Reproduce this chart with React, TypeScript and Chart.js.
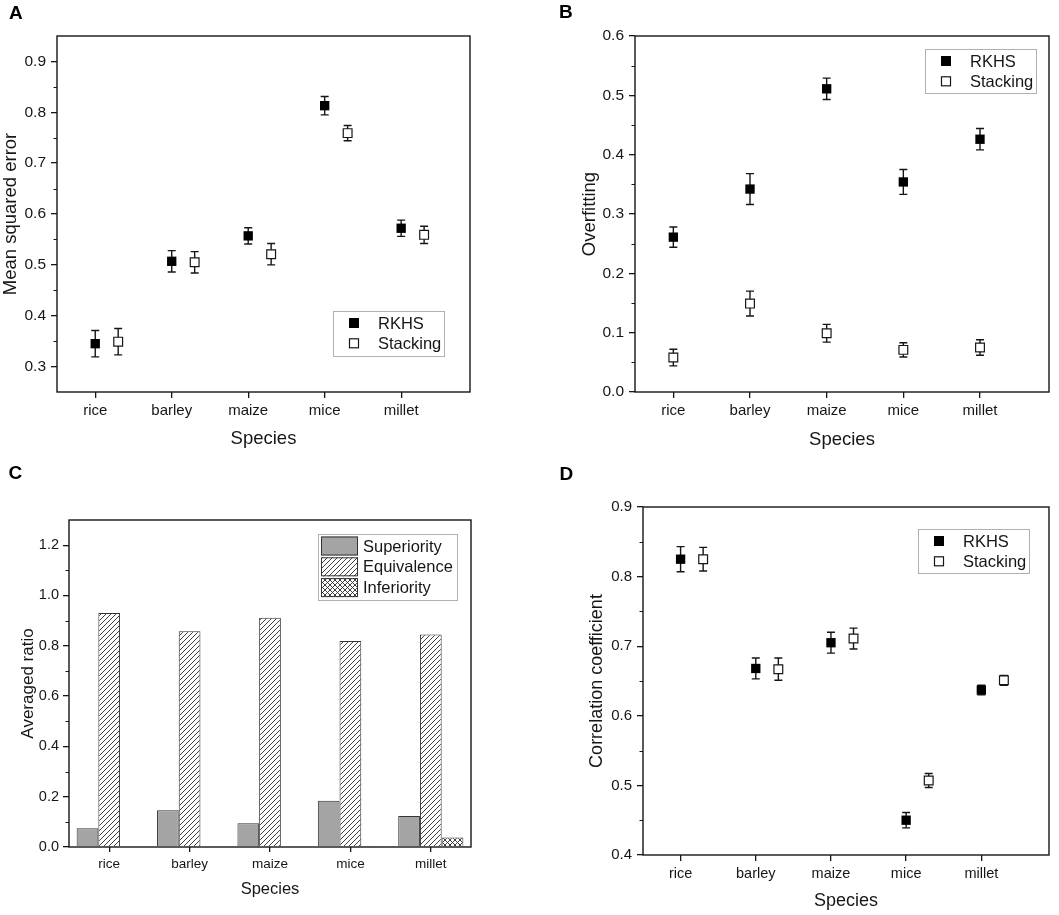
import { useEffect, useRef } from "react";
import { Chart, registerables } from "chart.js";

Chart.register(...registerables);

const FONT = "'Liberation Sans', Arial, Helvetica, sans-serif";
const INK = "#161616";

const species = ["rice", "barley", "maize", "mice", "millet"];
const speciesX = [1, 2, 3, 4, 5];

// A: mean squared error
const mseRkhs = [0.345, 0.507, 0.557, 0.813, 0.572];
const mseRkhsErr = [0.026, 0.021, 0.016, 0.018, 0.016];
const mseStacking = [0.349, 0.505, 0.521, 0.759, 0.559];
const mseStackingErr = [0.026, 0.021, 0.021, 0.015, 0.017];
const mseTicks = [0.3, 0.4, 0.5, 0.6, 0.7, 0.8, 0.9];

// B: overfitting
const ofRkhs = [0.261, 0.342, 0.511, 0.354, 0.426];
const ofRkhsErr = [0.017, 0.026, 0.018, 0.021, 0.018];
const ofStacking = [0.058, 0.149, 0.099, 0.071, 0.075];
const ofStackingErr = [0.014, 0.021, 0.015, 0.012, 0.013];
const ofTicks = [0, 0.1, 0.2, 0.3, 0.4, 0.5, 0.6];

// C: averaged ratio
const superiority = [0.075, 0.146, 0.094, 0.184, 0.123];
const equivalence = [0.93, 0.858, 0.911, 0.819, 0.845];
const inferiority = [0, 0, 0, 0.004, 0.038];
const ratioTicks = [0, 0.2, 0.4, 0.6, 0.8, 1.0, 1.2];

// D: correlation coefficient
const ccRkhs = [0.825, 0.668, 0.705, 0.45, 0.637];
const ccRkhsErr = [0.018, 0.015, 0.015, 0.011, 0.007];
const ccStacking = [0.825, 0.667, 0.711, 0.507, 0.651];
const ccStackingErr = [0.017, 0.016, 0.015, 0.01, 0.007];
const ccTicks = [0.4, 0.5, 0.6, 0.7, 0.8, 0.9];

function hatch(cross: boolean) {
  const s = 5;
  const c = document.createElement("canvas");
  c.width = s;
  c.height = s;
  const g = c.getContext("2d")!;
  g.fillStyle = "#fff";
  g.fillRect(0, 0, s, s);
  g.strokeStyle = "#2a2a2a";
  g.lineWidth = 0.9;
  g.beginPath();
  g.moveTo(0, s);
  g.lineTo(s, 0);
  g.moveTo(-1, 1);
  g.lineTo(1, -1);
  g.moveTo(s - 1, s + 1);
  g.lineTo(s + 1, s - 1);
  if (cross) {
    g.moveTo(0, 0);
    g.lineTo(s, s);
    g.moveTo(-1, s - 1);
    g.lineTo(1, s + 1);
    g.moveTo(s - 1, -1);
    g.lineTo(s + 1, 1);
  }
  g.stroke();
  return g.createPattern(c, "repeat");
}

// vertical error bars with caps, drawn under the markers
const errorBars = {
  id: "errorBars",
  beforeDatasetsDraw(chart: any) {
    const { ctx } = chart;
    const y = chart.scales.y;
    chart.data.datasets.forEach((ds: any, i: number) => {
      if (!ds.errors) return;
      const meta = chart.getDatasetMeta(i);
      ctx.save();
      ctx.strokeStyle = INK;
      ctx.lineWidth = 1.4;
      meta.data.forEach((pt: any, j: number) => {
        const v = ds.data[j].y;
        const hi = y.getPixelForValue(v + ds.errors[j]);
        const lo = y.getPixelForValue(v - ds.errors[j]);
        ctx.beginPath();
        ctx.moveTo(pt.x, hi);
        ctx.lineTo(pt.x, lo);
        ctx.moveTo(pt.x - 4, hi);
        ctx.lineTo(pt.x + 4, hi);
        ctx.moveTo(pt.x - 4, lo);
        ctx.lineTo(pt.x + 4, lo);
        ctx.stroke();
      });
      ctx.restore();
    });
  },
};

// frame, minor ticks and the boxed legend
const decor = {
  id: "decor",
  afterDraw(chart: any, _args: any, opts: any) {
    const { ctx, chartArea: a } = chart;
    const y = chart.scales.y;
    ctx.save();
    ctx.strokeStyle = INK;
    ctx.lineWidth = 1.4;
    ctx.strokeRect(a.left, a.top, a.right - a.left, a.bottom - a.top);

    const half = opts.minorStep;
    const majors: number[] = opts.majors;
    const minors = [majors[0] - half, ...majors.map((t) => t + half)].filter(
      (v) => v > y.min + 1e-6 && v < y.max - 1e-6
    );
    ctx.lineWidth = 1.2;
    ctx.beginPath();
    minors.forEach((v) => {
      const py = Math.round(y.getPixelForValue(v)) + 0.5;
      ctx.moveTo(a.left - 3.5, py);
      ctx.lineTo(a.left, py);
    });
    ctx.stroke();

    const L = opts.legend;
    ctx.strokeStyle = "#b0b0b0";
    ctx.lineWidth = 1;
    ctx.strokeRect(L.x + 0.5, L.y + 0.5, L.w, L.h);
    ctx.font = `16.5px ${FONT}`;
    ctx.textBaseline = "middle";
    L.items.forEach((it: any, k: number) => {
      const cy = L.y + L.first + k * L.gap;
      if (it.kind === "filled") {
        ctx.fillStyle = "#000";
        ctx.fillRect(L.x + 16, cy - 5, 10, 10);
      } else if (it.kind === "open") {
        ctx.fillStyle = "#fff";
        ctx.fillRect(L.x + 16, cy - 5, 10, 10);
        ctx.strokeStyle = INK;
        ctx.lineWidth = 1.2;
        ctx.strokeRect(L.x + 16.5, cy - 4.5, 9, 9);
      } else {
        ctx.fillStyle = it.fill;
        ctx.fillRect(L.x + 3, cy - 9.5, 37, 19);
        ctx.strokeStyle = "#333";
        ctx.lineWidth = 1;
        ctx.strokeRect(L.x + 3.5, cy - 9, 36, 18);
      }
      ctx.fillStyle = INK;
      ctx.fillText(it.label, L.x + 45, cy + 1);
    });
    ctx.restore();
  },
};

function valueAxis(o: any) {
  return {
    type: "linear",
    min: o.min,
    max: o.max,
    afterBuildTicks: (s: any) => {
      s.ticks = o.ticks.map((v: number) => ({ value: v }));
    },
    afterFit: (s: any) => {
      s.width = o.width;
    },
    grid: { display: true, drawOnChartArea: false, drawTicks: true, tickLength: 6, color: INK, lineWidth: 1.3 },
    border: { display: false },
    ticks: {
      padding: o.tickPad,
      color: INK,
      font: { family: FONT, size: o.tickSize },
      callback: (v: any) => Number(v).toFixed(1),
    },
    title: {
      display: true,
      text: o.title,
      color: INK,
      font: { family: FONT, size: o.titleSize },
      padding: { top: o.titlePad, bottom: 0 },
    },
  };
}

function speciesTitle(size: number, pad: number) {
  return {
    display: true,
    text: "Species",
    color: INK,
    font: { family: FONT, size },
    padding: { top: 0, bottom: pad },
  };
}

function scatterPanel(p: any) {
  return () => ({
    type: "scatter",
    data: {
      datasets: [
        {
          label: "RKHS",
          data: speciesX.map((x, i) => ({ x, y: p.rkhs[i] })),
          errors: p.rkhsErr,
          pointStyle: "rect",
          pointRadius: 6.6,
          backgroundColor: "#000",
          borderColor: "#000",
          borderWidth: 0,
        },
        {
          label: "Stacking",
          data: speciesX.map((x, i) => ({ x: x + p.shift, y: p.stacking[i] })),
          errors: p.stackingErr,
          pointStyle: "rect",
          pointRadius: 6.2,
          backgroundColor: "#fff",
          borderColor: INK,
          borderWidth: 1.2,
        },
      ],
    },
    options: {
      responsive: false,
      animation: false,
      events: [],
      layout: { padding: { left: 0, right: p.padRight, top: p.padTop, bottom: 0 } },
      plugins: {
        legend: { display: false },
        tooltip: { enabled: false },
        decor: {
          majors: p.yTicks,
          minorStep: p.minorStep,
          legend: {
            ...p.legend,
            first: 12,
            gap: 20.3,
            items: [
              { label: "RKHS", kind: "filled" },
              { label: "Stacking", kind: "open" },
            ],
          },
        },
      },
      scales: {
        x: {
          type: "linear",
          min: 0.5,
          max: 5.9,
          afterBuildTicks: (s: any) => {
            s.ticks = speciesX.map((v) => ({ value: v }));
          },
          afterFit: (s: any) => {
            s.height = p.xHeight;
          },
          grid: { display: true, drawOnChartArea: false, drawTicks: true, tickLength: 6, color: INK, lineWidth: 1.3 },
          border: { display: false },
          ticks: {
            padding: 4,
            color: INK,
            font: { family: FONT, size: p.xTickSize },
            callback: (v: any) => species[Math.round(Number(v)) - 1] ?? "",
          },
          title: speciesTitle(p.titleSize, p.xTitlePad),
        },
        y: valueAxis({
          min: p.yMin,
          max: p.yMax,
          ticks: p.yTicks,
          width: p.yWidth,
          tickPad: 5,
          tickSize: p.yTickSize,
          title: p.yTitle,
          titleSize: p.titleSize,
          titlePad: p.yTitlePad,
        }),
      },
    },
    plugins: [errorBars, decor],
  });
}

function ratioPanel() {
  const gray = "#a4a4a4";
  const diag = hatch(false);
  const cross = hatch(true);
  return {
    type: "bar",
    data: {
      labels: species,
      datasets: [
        { label: "Superiority", data: superiority, backgroundColor: gray },
        { label: "Equivalence", data: equivalence, backgroundColor: diag },
        { label: "Inferiority", data: inferiority, backgroundColor: cross },
      ].map((d) => ({
        ...d,
        borderColor: "#333",
        borderWidth: 1,
        barPercentage: 1,
        categoryPercentage: 0.81,
      })),
    },
    options: {
      responsive: false,
      animation: false,
      events: [],
      layout: { padding: { left: 0, right: 59, top: 65, bottom: 0 } },
      plugins: {
        legend: { display: false },
        tooltip: { enabled: false },
        decor: {
          majors: ratioTicks,
          minorStep: 0.1,
          legend: {
            x: 318,
            y: 79,
            w: 139,
            h: 66,
            first: 12,
            gap: 20.8,
            items: [
              { label: "Superiority", kind: "swatch", fill: gray },
              { label: "Equivalence", kind: "swatch", fill: diag },
              { label: "Inferiority", kind: "swatch", fill: cross },
            ],
          },
        },
      },
      scales: {
        x: {
          type: "category",
          afterFit: (s: any) => {
            s.height = 68;
          },
          grid: {
            display: true,
            offset: false,
            drawOnChartArea: false,
            drawTicks: true,
            tickLength: 5,
            color: INK,
            lineWidth: 1.3,
          },
          border: { display: false },
          ticks: { padding: 4, color: INK, font: { family: FONT, size: 13.5 } },
          title: speciesTitle(16.5, 16),
        },
        y: valueAxis({
          min: 0,
          max: 1.3,
          ticks: ratioTicks,
          width: 69,
          tickPad: 4,
          tickSize: 14.5,
          title: "Averaged ratio",
          titleSize: 17,
          titlePad: 18,
        }),
      },
    },
    plugins: [decor],
  };
}

const panelA = scatterPanel({
  rkhs: mseRkhs,
  rkhsErr: mseRkhsErr,
  stacking: mseStacking,
  stackingErr: mseStackingErr,
  shift: 0.3,
  yMin: 0.25,
  yMax: 0.95,
  yTicks: mseTicks,
  minorStep: 0.05,
  yTitle: "Mean squared error",
  yWidth: 57,
  padRight: 60,
  padTop: 36,
  xHeight: 63,
  yTitlePad: 0,
  xTitlePad: 5,
  titleSize: 18.5,
  yTickSize: 15.5,
  xTickSize: 15,
  legend: { x: 333, y: 311, w: 111, h: 45 },
});

const panelB = scatterPanel({
  rkhs: ofRkhs,
  rkhsErr: ofRkhsErr,
  stacking: ofStacking,
  stackingErr: ofStackingErr,
  shift: 0,
  yMin: 0,
  yMax: 0.6,
  yTicks: ofTicks,
  minorStep: 0.05,
  yTitle: "Overfitting",
  yWidth: 105,
  padRight: 10,
  padTop: 36,
  xHeight: 63,
  yTitlePad: 48.5,
  xTitlePad: 4,
  titleSize: 18.5,
  yTickSize: 15.5,
  xTickSize: 15,
  legend: { x: 395, y: 49, w: 111, h: 44 },
});

const panelD = scatterPanel({
  rkhs: ccRkhs,
  rkhsErr: ccRkhsErr,
  stacking: ccStacking,
  stackingErr: ccStackingErr,
  shift: 0.3,
  yMin: 0.4,
  yMax: 0.9,
  yTicks: ccTicks,
  minorStep: 0.05,
  yTitle: "Correlation coefficient",
  yWidth: 113,
  padRight: 10,
  padTop: 52,
  xHeight: 60,
  yTitlePad: 56.5,
  xTitlePad: 3.5,
  titleSize: 18,
  yTickSize: 15,
  xTickSize: 14.5,
  legend: { x: 388, y: 74, w: 111, h: 44 },
});

function Panel({ make, left, top, width, height }: any) {
  const ref = useRef<HTMLCanvasElement>(null);

  useEffect(() => {
    if (!ref.current) return;
    const chart = new Chart(ref.current, make());
    return () => chart.destroy();
  }, [make]);

  return (
    <canvas
      ref={ref}
      width={width}
      height={height}
      style={{ position: "absolute", left, top, width, height }}
    />
  );
}

function Letter({ children, left, top }: any) {
  return (
    <div
      style={{
        position: "absolute",
        left,
        top,
        fontFamily: FONT,
        fontWeight: "bold",
        fontSize: 19,
        lineHeight: "19px",
        color: "#000",
      }}
    >
      {children}
    </div>
  );
}

export default function App() {
  return (
    <div style={{ position: "fixed", left: 0, top: 0, width: 1059, height: 915, background: "#fff" }}>
      <Panel make={panelA} left={0} top={0} width={530} height={455} />
      <Panel make={panelB} left={530} top={0} width={529} height={455} />
      <Panel make={ratioPanel} left={0} top={455} width={530} height={460} />
      <Panel make={panelD} left={530} top={455} width={529} height={460} />
      <Letter left={9} top={2.5}>A</Letter>
      <Letter left={559} top={1.5}>B</Letter>
      <Letter left={8.5} top={462.5}>C</Letter>
      <Letter left={559.5} top={463.5}>D</Letter>
    </div>
  );
}
